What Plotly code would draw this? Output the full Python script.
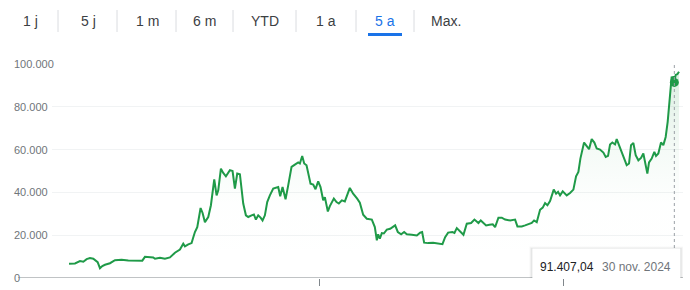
import plotly.graph_objects as go

# ---------------- data ----------------
dates = [
    "2019-12-10", "2019-12-28", "2020-01-12", "2020-01-22", "2020-02-01", "2020-02-11",
    "2020-02-21", "2020-02-28", "2020-03-05", "2020-03-12", "2020-03-19", "2020-03-27",
    "2020-04-11", "2020-04-26", "2020-05-16", "2020-06-05", "2020-06-25", "2020-07-17",
    "2020-07-25", "2020-08-09", "2020-08-19", "2020-08-24", "2020-09-08", "2020-09-23",
    "2020-10-08", "2020-10-23", "2020-11-07", "2020-11-17", "2020-11-22", "2020-12-02",
    "2020-12-12", "2020-12-16", "2020-12-22", "2020-12-29", "2021-01-08", "2021-01-14",
    "2021-01-21", "2021-01-31", "2021-02-08", "2021-02-18", "2021-02-25", "2021-03-02",
    "2021-03-10", "2021-03-17", "2021-03-25", "2021-04-06", "2021-04-14", "2021-04-21",
    "2021-04-28", "2021-05-06", "2021-05-16", "2021-05-24", "2021-05-31", "2021-06-10",
    "2021-06-17", "2021-06-23", "2021-06-30", "2021-07-07", "2021-07-13", "2021-07-20",
    "2021-07-27", "2021-08-04", "2021-08-14", "2021-08-29", "2021-09-04", "2021-09-11",
    "2021-09-20", "2021-09-28", "2021-10-08", "2021-10-18", "2021-10-28", "2021-11-02",
    "2021-11-09", "2021-11-15", "2021-11-22", "2021-12-04", "2021-12-12", "2021-12-19",
    "2021-12-27", "2022-01-03", "2022-01-11", "2022-01-16", "2022-01-25", "2022-01-31",
    "2022-02-12", "2022-02-20", "2022-02-27", "2022-03-08", "2022-03-17", "2022-04-01",
    "2022-04-11", "2022-04-23", "2022-05-01", "2022-05-11", "2022-05-22", "2022-06-06",
    "2022-06-15", "2022-06-21", "2022-06-25", "2022-06-30", "2022-07-06", "2022-07-12",
    "2022-07-21", "2022-07-31", "2022-08-06", "2022-08-15", "2022-08-23", "2022-09-02",
    "2022-09-11", "2022-09-19", "2022-10-04", "2022-10-19", "2022-10-29", "2022-11-04",
    "2022-11-10", "2022-11-22", "2022-12-07", "2022-12-22", "2023-01-04", "2023-01-12",
    "2023-01-21", "2023-02-03", "2023-02-09", "2023-02-16", "2023-02-26", "2023-03-08",
    "2023-03-18", "2023-03-31", "2023-04-10", "2023-04-22", "2023-04-29", "2023-05-07",
    "2023-05-15", "2023-05-25", "2023-06-04", "2023-06-11", "2023-06-21", "2023-07-01",
    "2023-07-11", "2023-07-26", "2023-08-10", "2023-08-17", "2023-08-30", "2023-09-09",
    "2023-09-19", "2023-09-29", "2023-10-06", "2023-10-14", "2023-10-24", "2023-11-01",
    "2023-11-08", "2023-11-15", "2023-11-23", "2023-12-04", "2023-12-11", "2023-12-17",
    "2023-12-23", "2023-12-31", "2024-01-12", "2024-01-22", "2024-02-01", "2024-02-09",
    "2024-02-16", "2024-02-22", "2024-03-04", "2024-03-12", "2024-03-19", "2024-03-27",
    "2024-04-04", "2024-04-11", "2024-04-21", "2024-05-01", "2024-05-08", "2024-05-15",
    "2024-05-21", "2024-05-28", "2024-06-05", "2024-06-10", "2024-06-17", "2024-06-25",
    "2024-07-03", "2024-07-10", "2024-07-17", "2024-07-23", "2024-07-30", "2024-08-06",
    "2024-08-14", "2024-08-22", "2024-08-29", "2024-09-03", "2024-09-10", "2024-09-15",
    "2024-09-23", "2024-10-01", "2024-10-06", "2024-10-13", "2024-10-21", "2024-10-28",
    "2024-11-04", "2024-11-10", "2024-11-17", "2024-11-22", "2024-11-26", "2024-11-28",
    "2024-11-30", "2024-12-04", "2024-12-09", "2024-12-14",
]
prices = [
    6650, 6800, 7900, 7600, 8800, 9300,
    9000, 7900, 7400, 4600, 5600, 6200,
    6900, 8300, 8500, 8200, 8100, 8100,
    9900, 9700, 9600, 9000, 9500, 9000,
    9600, 11800, 13300, 16000, 14800, 15700,
    16300, 18500, 21500, 23800, 32700, 30400,
    26100, 28500, 34000, 46100, 38600, 41000,
    51100, 49100, 47500, 50400, 50000, 41800,
    48800, 48500, 34800, 29300, 28500, 29300,
    29700, 27300, 29300, 28200, 26900, 29300,
    35500, 38600, 41800, 42500, 38200, 42500,
    36800, 43300, 51900, 53000, 54000, 53500,
    57000, 53500, 52700, 44100, 43700, 41500,
    45200, 42500, 36300, 37800, 31100, 33600,
    37100, 35500, 34800, 36300, 35800, 42100,
    39400, 37100, 35200, 29600, 27700, 27300,
    23800, 17600, 20400, 18400, 21000, 20800,
    22600, 23000, 23800, 24600, 21500, 20400,
    21500, 20400, 20200, 19900, 21200, 21500,
    16500, 16300, 16500, 16200, 15800, 19100,
    21200, 21500, 21100, 23300, 21900, 20200,
    25400, 25700, 27300, 25700, 26900, 25700,
    24600, 24900, 25100, 23800, 28200, 28200,
    27300, 26900, 27300, 24100, 24100, 24600,
    25100, 25700, 26900, 26100, 31900, 32900,
    35000, 34000, 36000, 41300, 39400, 40300,
    38600, 40500, 38600, 39700, 41300, 47500,
    49600, 55800, 63300, 61300, 60200, 64900,
    63300, 60500, 60000, 58600, 56600, 57100,
    62400, 63300, 62400, 64900, 62100, 58200,
    55000, 52700, 53500, 62100, 63100, 57400,
    55000, 56100, 58200, 54200, 48800, 54000,
    55800, 58900, 57000, 58200, 63300, 62100,
    65900, 73000, 85500, 94100, 92000, 94300,
    91407.04, 94900, 95200, 96400,
]

y_ticks = [0, 20000, 40000, 60000, 80000, 100000]
y_labels = ["0", "20.000", "40.000", "60.000", "80.000", "100.000"]
x_ticks = ["2022-01-01", "2024-01-01"]
x_labels = ["2022", "2024"]
x_range = ["2019-10-20", "2024-12-26"]
y_range = [0, 100000]

buttons = ["1 j", "5 j", "1 m", "6 m", "YTD", "1 a", "5 a", "Max."]
selected_button = "5 a"

tooltip_date = "2024-11-30"
tooltip_value_text = "91.407,04"
tooltip_date_text = "30 nov. 2024"

# ---------------- styling / layout ----------------
W, H = 690, 290
ML, MR, MT, MB = 52, 7, 64, 12
PW, PH = W - ML - MR, H - MT - MB

GREEN = "#1f9a48"
GREY_TXT = "#70757a"
DARK_TXT = "#3c4043"
BLUE = "#1a73e8"
FONT = "Arial, 'Liberation Sans', sans-serif"

button_centers_px = [30, 88, 147, 204, 265, 326, 385, 446]
separator_px = [58, 117, 176, 233, 296, 356, 414]


def fx(px):
    return (px - ML) / PW


def fy(py):
    return (H - MB - py) / PH


tip_idx = dates.index(tooltip_date)
tip_val = prices[tip_idx]

fig = go.Figure()

fig.add_trace(go.Scatter(
    x=dates, y=prices, mode="lines",
    line=dict(color=GREEN, width=2),
    fill="tozeroy",
    fillgradient=dict(
        type="vertical", start=0, stop=100000,
        colorscale=[[0, "rgba(31,154,72,0)"], [0.35, "rgba(31,154,72,0.005)"],
                    [0.6, "rgba(31,154,72,0.045)"], [0.85, "rgba(31,154,72,0.12)"],
                    [1, "rgba(31,154,72,0.18)"]],
    ),
    hoverinfo="skip",
))

fig.add_trace(go.Scatter(
    x=[dates[tip_idx]], y=[tip_val], mode="markers",
    marker=dict(color=GREEN, size=9),
    hoverinfo="skip",
))

shapes = []
# baseline extending to the left under the "0" label
shapes.append(dict(type="line", xref="paper", yref="y", x0=fx(18), x1=1, y0=0, y1=0,
                   line=dict(color="#80868b", width=1), layer="above"))
# dotted crosshair
shapes.append(dict(type="line", xref="x", yref="y", x0=tooltip_date, x1=tooltip_date,
                   y0=y_range[0], y1=y_range[1],
                   line=dict(color="#9aa0a6", width=1, dash="dot"), layer="above"))
# tooltip shadow + box
for dx0, dx1, dy0, dy1, a in [(-3, 3, -4, 2, 0.035), (-2, 2, -3, 1, 0.05), (-1, 1, -2, 0.5, 0.07)]:
    shapes.append(dict(type="rect", xref="x", yref="y", xsizemode="pixel", ysizemode="pixel",
                       xanchor=tooltip_date, yanchor=0,
                       x0=-142 + dx0, x1=6 + dx1, y0=-2.5 + dy0, y1=29.5 + dy1,
                       fillcolor=f"rgba(60,64,67,{a})", line=dict(width=0), layer="above"))
shapes.append(dict(type="rect", xref="x", yref="y", xsizemode="pixel", ysizemode="pixel",
                   xanchor=tooltip_date, yanchor=0, x0=-142, x1=6, y0=-2.5, y1=29.5,
                   fillcolor="white", line=dict(width=0), layer="above"))
# button separators
for sx in separator_px:
    shapes.append(dict(type="line", xref="paper", yref="paper", x0=fx(sx), x1=fx(sx),
                       y0=fy(10), y1=fy(32), line=dict(color="#dadce0", width=1)))
# selected underline
sel_cx = button_centers_px[buttons.index(selected_button)]
shapes.append(dict(type="rect", xref="paper", yref="paper",
                   x0=fx(sel_cx - 17), x1=fx(sel_cx + 17), y0=fy(36), y1=fy(33),
                   fillcolor=BLUE, line=dict(width=0)))

annotations = []
for v, lab in zip(y_ticks, y_labels):
    annotations.append(dict(xref="paper", yref="y", x=fx(12), y=v, text=lab,
                            xanchor="left", yanchor="middle", showarrow=False,
                            font=dict(family=FONT, size=11, color=GREY_TXT)))
for lab, cx in zip(buttons, button_centers_px):
    annotations.append(dict(xref="paper", yref="paper", x=fx(cx), y=fy(21), text=lab,
                            xanchor="center", yanchor="middle", showarrow=False,
                            font=dict(family=FONT, size=14,
                                      color=BLUE if lab == selected_button else DARK_TXT)))
annotations.append(dict(xref="x", yref="y", x=tooltip_date, y=0, xshift=-136, yshift=11,
                        text=tooltip_value_text, xanchor="left", yanchor="middle",
                        showarrow=False, font=dict(family=FONT, size=12, color="#202124")))
annotations.append(dict(xref="x", yref="y", x=tooltip_date, y=0, xshift=-1, yshift=11,
                        text=tooltip_date_text, xanchor="right", yanchor="middle",
                        showarrow=False, font=dict(family=FONT, size=12, color=GREY_TXT)))

fig.update_layout(
    width=W, height=H,
    margin=dict(l=ML, r=MR, t=MT, b=MB, autoexpand=False),
    paper_bgcolor="white", plot_bgcolor="white",
    showlegend=False,
    font=dict(family=FONT, size=11, color=GREY_TXT),
    xaxis=dict(type="date", range=x_range, showgrid=False, zeroline=False, showline=False,
               tickvals=x_ticks, ticktext=x_labels, ticks="outside", ticklen=7,
               tickcolor="#80868b", tickwidth=1, automargin=False,
               tickfont=dict(family=FONT, size=11, color=GREY_TXT)),
    yaxis=dict(range=y_range, tickvals=y_ticks, showticklabels=False, showgrid=True,
               gridcolor="#f1f3f4", gridwidth=1, zeroline=False, showline=False,
               automargin=False),
    shapes=shapes,
    annotations=annotations,
    hovermode=False,
)

fig.write_html("out.html", config={"displayModeBar": False})
